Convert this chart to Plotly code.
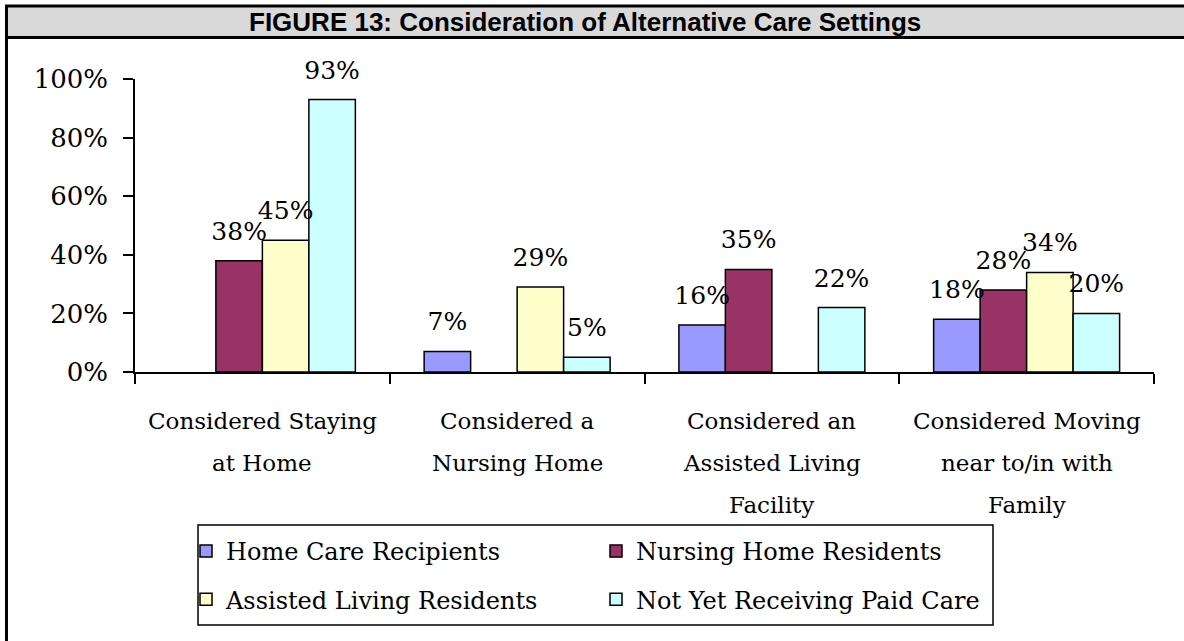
import plotly.graph_objects as go

# data
categories = ["Staying at Home", "Nursing Home", "Assisted Living Facility", "Moving near Family"]
category_lines = [
    ["Considered Staying", "at Home"],
    ["Considered a", "Nursing Home"],
    ["Considered an", "Assisted Living", "Facility"],
    ["Considered Moving", "near to/in with", "Family"],
]
series_names = ["Home Care Recipients", "Nursing Home Residents",
                "Assisted Living Residents", "Not Yet Receiving Paid Care"]
home_care = [None, 0.07, 0.16, 0.18]
nursing_home = [0.38, None, 0.35, 0.28]
assisted_living = [0.45, 0.29, None, 0.34]
not_yet_paid = [0.93, 0.05, 0.22, 0.20]
y_ticks = [0, 0.2, 0.4, 0.6, 0.8, 1.0]

series_values = [home_care, nursing_home, assisted_living, not_yet_paid]
colors = ["#9999FF", "#993366", "#FFFFCC", "#CCFFFF"]
legend_ids = ["legend", "legend2", "legend", "legend2"]

W, H = 1184, 641
SERIF = "DejaVu Serif"
GAP = 0.27


def px_x(x):
    return x / W


def px_y(y):
    return 1 - y / H


fig = go.Figure()

for i, (name, vals) in enumerate(zip(series_names, series_values)):
    fig.add_trace(go.Bar(
        x=categories, y=vals, name=name,
        marker=dict(color=colors[i], line=dict(color="black", width=1.5)),
        offsetgroup=str(i), legend=legend_ids[i], legendgroup=name,
        hoverinfo="skip",
    ))

# value labels, grouped like the bars, floated above them
for i, vals in enumerate(series_values):
    fig.add_trace(go.Scatter(
        x=categories, y=vals, mode="markers+text",
        text=[f"{round(v * 100)}%" if v is not None else "" for v in vals],
        textposition="top center",
        textfont=dict(family=SERIF, size=25, color="black"),
        marker=dict(size=22, color="rgba(0,0,0,0)"),
        offsetgroup=str(i), showlegend=False, hoverinfo="skip", cliponaxis=False,
    ))

# multi-line category labels
annotations = []
for cat, lines in zip(categories, category_lines):
    for k, line in enumerate(lines):
        annotations.append(dict(
            x=cat, xref="x", y=px_y(421 + 42 * k), yref="paper",
            text=line, showarrow=False, xanchor="center", yanchor="middle",
            font=dict(family=SERIF, size=23, color="black"),
        ))

annotations.append(dict(
    x=px_x(585), xref="paper", y=px_y(22), yref="paper",
    text="<b>FIGURE 13: Consideration of Alternative Care Settings</b>",
    showarrow=False, xanchor="center", yanchor="middle",
    font=dict(family="Liberation Sans, Arial", size=26, color="black"),
))

shapes = [
    # title band
    dict(type="rect", xref="paper", yref="paper",
         x0=px_x(6.5), x1=1.05, y0=px_y(37.5), y1=px_y(6),
         fillcolor="#D9D9D9", line=dict(color="black", width=3), layer="below"),
    # left frame edge
    dict(type="line", xref="paper", yref="paper",
         x0=px_x(6.5), x1=px_x(6.5), y0=px_y(6), y1=-0.02,
         line=dict(color="black", width=3)),
    # legend box
    dict(type="rect", xref="paper", yref="paper",
         x0=px_x(198), x1=px_x(993), y0=px_y(625), y1=px_y(525),
         line=dict(color="black", width=1.5)),
]

legend_style = dict(
    orientation="v", xanchor="left", yanchor="top", y=px_y(529),
    bgcolor="rgba(0,0,0,0)", borderwidth=0, tracegroupgap=14,
    font=dict(family=SERIF, size=24, color="black"), itemclick=False,
)

fig.update_layout(
    width=W, height=H,
    margin=dict(l=0, r=0, t=0, b=0),
    paper_bgcolor="white", plot_bgcolor="white",
    barmode="group", bargap=GAP, bargroupgap=0,
    scattermode="group", scattergap=GAP,
    showlegend=True,
    legend=dict(x=px_x(186), **legend_style),
    legend2=dict(x=px_x(596), **legend_style),
    xaxis=dict(
        domain=[px_x(135), px_x(1154)], type="category",
        showline=True, linecolor="black", linewidth=1.5,
        ticks="outside", tickson="boundaries", ticklen=10, tickwidth=1.5, tickcolor="black",
        showticklabels=False, showgrid=False, zeroline=False, automargin=False,
    ),
    yaxis=dict(
        domain=[px_y(372), px_y(79)], range=[0, 1],
        tickvals=y_ticks, tickformat=".0%",
        showline=True, linecolor="black", linewidth=1.5,
        ticks="outside", ticklen=10, tickwidth=1.5, tickcolor="black",
        ticklabelstandoff=10,
        tickfont=dict(family=SERIF, size=26, color="black"),
        showgrid=False, zeroline=False, automargin=False,
    ),
    annotations=annotations,
    shapes=shapes,
)

fig.write_html("out.html", config={"displayModeBar": False},
               post_script="document.body.style.margin='0px';")
